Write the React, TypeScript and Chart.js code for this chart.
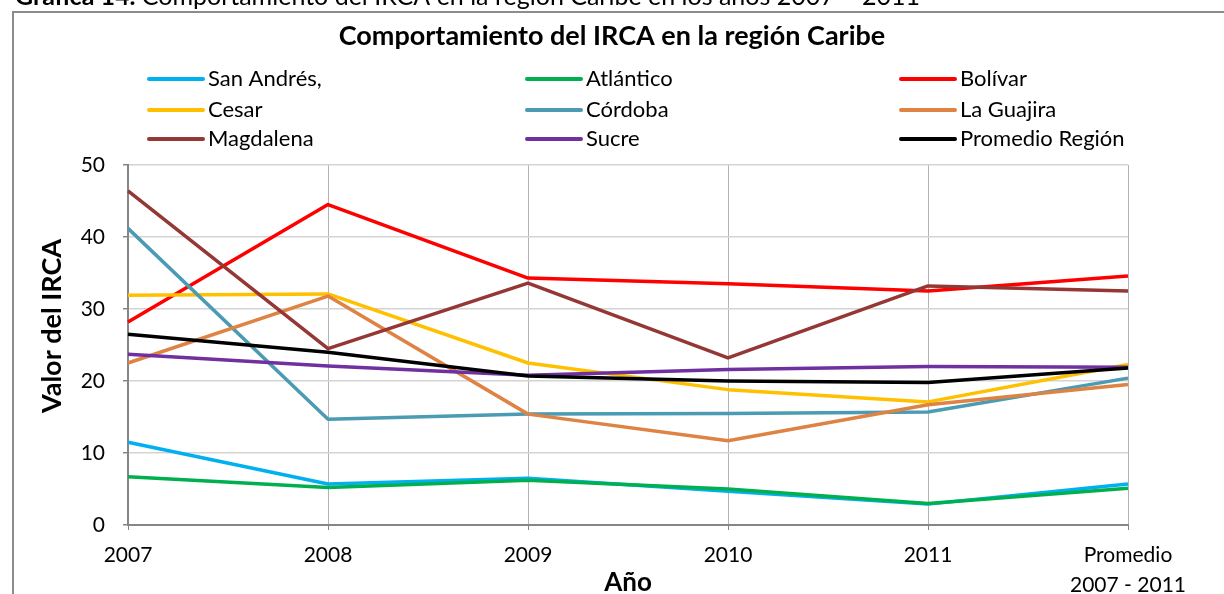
import React, { useEffect, useRef } from "react";
import { Chart, registerables } from "chart.js";

Chart.register(...registerables);

const categories: (string | string[])[] = ["2007", "2008", "2009", "2010", "2011", ["Promedio", "2007 - 2011"]];

const seriesNames = ["San Andrés,", "Atlántico", "Bolívar", "Cesar", "Córdoba", "La Guajira", "Magdalena", "Sucre", "Promedio Región"];

const sanAndres = [11.5, 5.7, 6.5, 4.7, 2.9, 5.7];
const atlantico = [6.7, 5.2, 6.2, 5.0, 3.0, 5.1];
const bolivar = [28.2, 44.5, 34.3, 33.5, 32.5, 34.6];
const cesar = [31.9, 32.1, 22.5, 18.8, 17.1, 22.3];
const cordoba = [41.2, 14.7, 15.4, 15.5, 15.7, 20.4];
const laGuajira = [22.5, 31.8, 15.4, 11.7, 16.7, 19.5];
const magdalena = [46.4, 24.5, 33.6, 23.2, 33.2, 32.5];
const sucre = [23.7, 22.1, 20.8, 21.6, 22.0, 21.9];
const promedioRegion = [26.5, 24.0, 20.7, 20.0, 19.8, 21.8];

const seriesValues = [sanAndres, atlantico, bolivar, cesar, cordoba, laGuajira, magdalena, sucre, promedioRegion];
const seriesColors = ["#00B0F0", "#00B050", "#FF0000", "#FFC000", "#4A9BB3", "#DE8344", "#953735", "#7030A0", "#000000"];

const yTicks = [0, 10, 20, 30, 40, 50];

const chartTitle = "Comportamiento del IRCA en la región Caribe";
const captionBold = "Gráfica 14.";
const captionRest = " Comportamiento del IRCA en la región Caribe en los años 2007 – 2011";
const yAxisTitle = "Valor del IRCA";
const xAxisTitle = "Año";

const FONT = "Lato, 'Open Sans', sans-serif";

const decorPlugin = {
  id: "decor",
  beforeDraw(chart: any) {
    const ctx = chart.ctx;
    ctx.save();
    ctx.fillStyle = "#ffffff";
    ctx.fillRect(0, 0, chart.width, chart.height);
    // outer chart border
    ctx.strokeStyle = "#8c8c8c";
    ctx.lineWidth = 2;
    ctx.strokeRect(13, 12, chart.width + 20, chart.height + 20);
    // caption (partly cut off at the top)
    ctx.fillStyle = "#000";
    ctx.textBaseline = "alphabetic";
    ctx.textAlign = "left";
    ctx.font = `bold 25px ${FONT}`;
    ctx.fillText(captionBold, 15, 5);
    const w = ctx.measureText(captionBold).width;
    ctx.font = `25px ${FONT}`;
    ctx.fillText(captionRest, 15 + w, 5);
    ctx.restore();
  },
  afterDraw(chart: any) {
    const ctx = chart.ctx;
    const area = chart.chartArea;
    ctx.save();
    ctx.fillStyle = "#000";
    // title
    ctx.font = `bold 27px ${FONT}`;
    ctx.textAlign = "center";
    ctx.textBaseline = "middle";
    ctx.fillText(chartTitle, 612, 36);
    // legend
    const colX = [149, 527, 901];
    const rowY = [79, 110, 139];
    ctx.font = `22px ${FONT}`;
    ctx.textAlign = "left";
    chart.data.datasets.forEach((ds: any, i: number) => {
      const x = colX[i % 3];
      const y = rowY[Math.floor(i / 3)];
      ctx.strokeStyle = ds.borderColor;
      ctx.lineWidth = 4;
      ctx.lineCap = "round";
      ctx.beginPath();
      ctx.moveTo(x, y);
      ctx.lineTo(x + 54, y);
      ctx.stroke();
      ctx.fillStyle = "#000";
      ctx.fillText(ds.label, x + 59, y);
    });
    // y axis title
    ctx.save();
    ctx.translate(52, 326);
    ctx.rotate(-Math.PI / 2);
    ctx.font = `bold 27px ${FONT}`;
    ctx.textAlign = "center";
    ctx.textBaseline = "middle";
    ctx.fillText(yAxisTitle, 0, 0);
    ctx.restore();
    // x axis title
    ctx.font = `bold 26px ${FONT}`;
    ctx.textAlign = "center";
    ctx.textBaseline = "middle";
    ctx.fillText(xAxisTitle, (area.left + area.right) / 2, 583);
    ctx.restore();
  },
};

export default function App() {
  const ref = useRef<HTMLCanvasElement | null>(null);
  useEffect(() => {
    if (!ref.current) return;
    const chart = new Chart(ref.current, {
      type: "line",
      data: {
        labels: categories as any,
        datasets: seriesNames.map((name, i) => ({
          label: name,
          data: seriesValues[i],
          borderColor: seriesColors[i],
          backgroundColor: seriesColors[i],
          borderWidth: 3.5,
          pointRadius: 0,
          pointHoverRadius: 0,
          tension: 0,
          borderJoinStyle: "round" as const,
          order: seriesNames.length - i,
        })),
      },
      options: {
        animation: false,
        responsive: false,
        devicePixelRatio: 1,
        layout: { padding: { left: 0, top: 165, right: 96, bottom: 0 } },
        plugins: {
          legend: { display: false },
          title: { display: false },
          tooltip: { enabled: false },
        },
        scales: {
          x: {
            type: "category",
            offset: false,
            afterFit: (s: any) => {
              s.height = 69;
            },
            grid: {
              color: "#b4b4b4",
              lineWidth: 1,
              drawTicks: true,
              tickLength: 5,
              tickColor: "#868686",
            },
            border: { color: "#868686", width: 2 },
            ticks: {
              color: "#000",
              font: { family: FONT, size: 21, lineHeight: 1.43 },
              padding: 10,
              maxRotation: 0,
              autoSkip: false,
            },
          },
          y: {
            min: 0,
            max: 50,
            afterFit: (s: any) => {
              s.width = 128;
            },
            afterBuildTicks: (s: any) => {
              s.ticks = yTicks.map((v) => ({ value: v }));
            },
            grid: {
              color: "#d4d4d4",
              lineWidth: 1.5,
              drawTicks: true,
              tickLength: 5,
              tickColor: "#868686",
            },
            border: { color: "#868686", width: 2 },
            ticks: {
              color: "#000",
              font: { family: FONT, size: 21 },
              padding: 18,
            },
          },
        },
      },
      plugins: [decorPlugin],
    });
    return () => chart.destroy();
  }, []);
  return (
    <div style={{ position: "absolute", left: 0, top: 0, width: 1224, height: 594 }}>
      <canvas ref={ref} width={1224} height={594} style={{ display: "block", width: 1224, height: 594 }} />
    </div>
  );
}
